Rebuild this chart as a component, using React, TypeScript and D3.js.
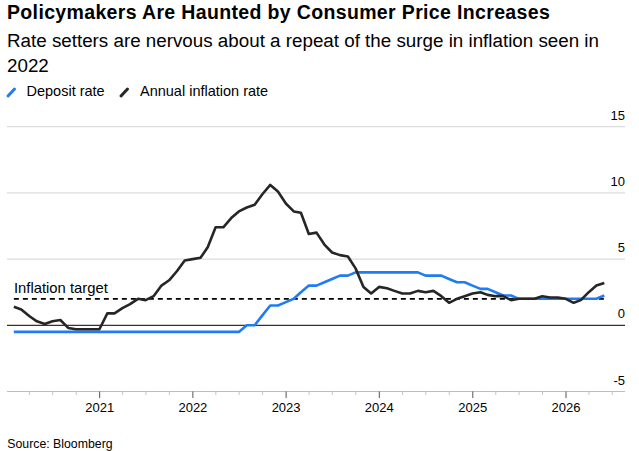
import * as d3 from 'd3';

// monthly readings, end of month, starting January 2020
const firstMonth = '2020-01';

// annual inflation rate, %
const inflation = [
  1.4, 1.2, 0.7, 0.3, 0.1, 0.3, 0.4, -0.2, -0.3, -0.3, -0.3, -0.3, // 2020
  0.9, 0.9, 1.3, 1.6, 2.0, 1.9, 2.2, 3.0, 3.4, 4.1, 4.9, 5.0, // 2021
  5.1, 5.9, 7.4, 7.4, 8.1, 8.6, 8.9, 9.1, 9.9, 10.6, 10.1, 9.2, // 2022
  8.6, 8.5, 6.9, 7.0, 6.1, 5.5, 5.3, 5.2, 4.3, 2.9, 2.4, 2.9, // 2023
  2.8, 2.6, 2.4, 2.4, 2.6, 2.5, 2.6, 2.2, 1.7, 2.0, 2.2, 2.4, // 2024
  2.5, 2.3, 2.2, 2.2, 1.9, 2.0, 2.0, 2.0, 2.2, 2.1, 2.1, 2.0, // 2025
  1.7, 1.9, 2.5, 3.0, 3.2, // 2026
];

// deposit rate, %
const deposit = [
  -0.5, -0.5, -0.5, -0.5, -0.5, -0.5, -0.5, -0.5, -0.5, -0.5, -0.5, -0.5, // 2020
  -0.5, -0.5, -0.5, -0.5, -0.5, -0.5, -0.5, -0.5, -0.5, -0.5, -0.5, -0.5, // 2021
  -0.5, -0.5, -0.5, -0.5, -0.5, -0.5, 0, 0, 0.75, 1.5, 1.5, 1.75, // 2022
  2.0, 2.5, 3.0, 3.0, 3.25, 3.5, 3.75, 3.75, 4.0, 4.0, 4.0, 4.0, // 2023
  4.0, 4.0, 4.0, 4.0, 4.0, 3.75, 3.75, 3.75, 3.5, 3.25, 3.25, 3.0, // 2024
  2.75, 2.75, 2.5, 2.25, 2.25, 2.0, 2.0, 2.0, 2.0, 2.0, 2.0, 2.0, // 2025
  2.0, 2.0, 2.0, 2.0, 2.25, // 2026
];

const inflationTarget = 2;
const yTicks = [-5, 0, 5, 10, 15];
const yearTicks = ['2021', '2022', '2023', '2024', '2025', '2026'];
const xDomain = ['2020-01-01', '2026-08-20'];

const title = 'Policymakers Are Haunted by Consumer Price Increases';
const subtitle = ['Rate setters are nervous about a repeat of the surge in inflation seen in', '2022'];
const legendItems = [
  { label: 'Deposit rate', color: '#1f7cf5' },
  { label: 'Annual inflation rate', color: '#262626' },
];
const source = 'Source: Bloomberg';

const W = 639, H = 451;
const FONT = '"Liberation Sans", Arial, sans-serif';

export default function App() {
  const parse = d3.timeParse('%Y-%m-%d');
  const start = d3.timeParse('%Y-%m')(firstMonth)!;
  // end of each month
  const dates = inflation.map((_, i) => d3.timeDay.offset(d3.timeMonth.offset(start, i + 1), -1));

  const x = d3.scaleTime()
    .domain(xDomain.map((d) => parse(d)!))
    .range([6.2, 625]);
  const y = d3.scaleLinear().domain([-5, 15]).range([391.5, 126.7]);

  const line = d3.line<number>()
    .x((_, i) => x(dates[i]))
    .y((d) => y(d));

  const quarters = d3.timeMonth.every(3)!.range(x.domain()[0], x.domain()[1]).filter((d) => d.getMonth() !== 0 && x(d) > 8);
  const years = yearTicks.map((t) => new Date(+t, 0, 1));

  return (
    <svg width={W} height={H} style={{ position: 'absolute', left: 0, top: 0, background: '#fff' }} fontFamily={FONT}>
      <text x={7} y={19} fontSize={19.5} fontWeight="bold" letterSpacing={0.35} fill="#000">{title}</text>
      {subtitle.map((s, i) => (
        <text key={i} x={7} y={46.7 + i * 25} fontSize={18.8} fill="#000">{s}</text>
      ))}

      {/* legend */}
      <g>
        <line x1={8} y1={96} x2={14.5} y2={89} stroke={legendItems[0].color} strokeWidth={3} strokeLinecap="round" />
        <text x={26.5} y={95.7} fontSize={14.5} fill="#000">{legendItems[0].label}</text>
        <line x1={121} y1={96} x2={127.5} y2={89} stroke={legendItems[1].color} strokeWidth={3} strokeLinecap="round" />
        <text x={140} y={95.7} fontSize={14.5} fill="#000">{legendItems[1].label}</text>
      </g>

      {/* grid */}
      {yTicks.filter((t) => t > 0).map((t) => (
        <line key={t} x1={7} x2={625} y1={y(t)} y2={y(t)} stroke="#dcdcdc" strokeWidth={1.2} />
      ))}
      <line x1={7} x2={625} y1={y(0)} y2={y(0)} stroke="#000" strokeWidth={1} />
      <line x1={7} x2={625} y1={y(-5)} y2={y(-5)} stroke="#bdbdbd" strokeWidth={1} />

      {yTicks.map((t) => (
        <text key={t} x={625} y={y(t) - 7} textAnchor="end" fontSize={13} fill="#000">{t}</text>
      ))}

      {/* x axis ticks */}
      {quarters.map((d, i) => (
        <line key={i} x1={x(d)} x2={x(d)} y1={y(-5)} y2={y(-5) + 3.5} stroke="#c4c4c4" strokeWidth={1} />
      ))}
      {years.map((d, i) => (
        <g key={i}>
          <line x1={x(d)} x2={x(d)} y1={y(-5)} y2={y(-5) + 6.5} stroke="#555" strokeWidth={1} />
          <text x={x(d)} y={412.3} textAnchor="middle" fontSize={13} fill="#000">{yearTicks[i]}</text>
        </g>
      ))}

      {/* inflation target */}
      <line x1={x(dates[0])} x2={x(dates[dates.length - 1])} y1={y(inflationTarget)} y2={y(inflationTarget)}
        stroke="#000" strokeWidth={1.8} strokeDasharray="5,4" />
      <text x={14} y={292.7} fontSize={14.8} fill="#000">Inflation target</text>

      <path d={line(deposit)!} fill="none" stroke={legendItems[0].color} strokeWidth={2.6} strokeLinejoin="round" />
      <path d={line(inflation)!} fill="none" stroke={legendItems[1].color} strokeWidth={2.6} strokeLinejoin="round" />

      <text x={7.3} y={448.3} fontSize={12.3} fill="#000">{source}</text>
    </svg>
  );
}
